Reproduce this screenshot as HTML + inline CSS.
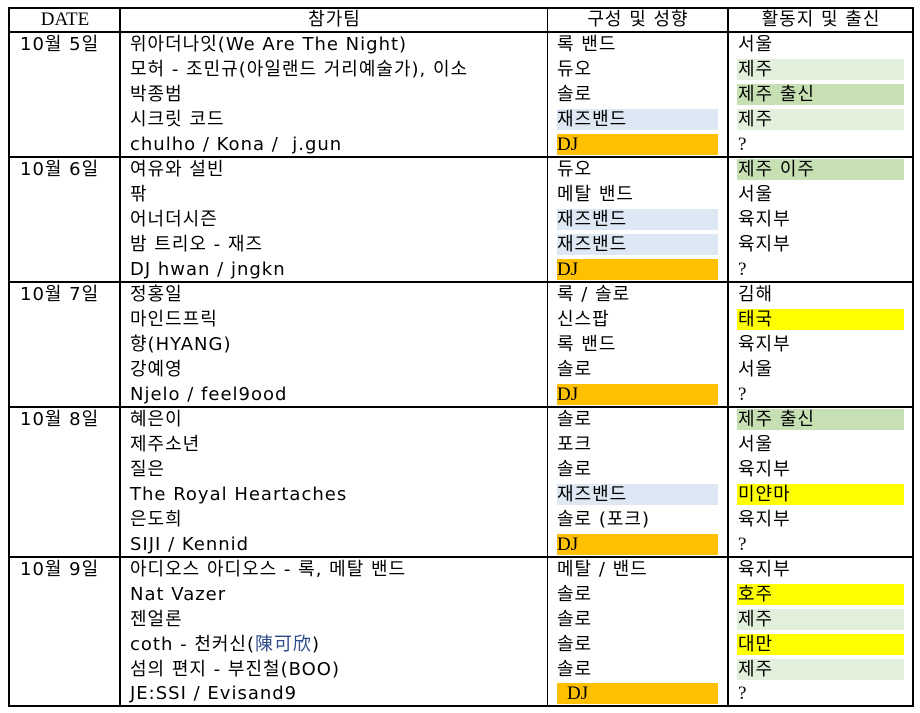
<!DOCTYPE html>
<html><head><meta charset="utf-8"><style>
body{margin:0;background:#fff;width:920px;height:713px;position:relative;overflow:hidden;
font-family:"DejaVu Sans","Noto Sans CJK KR",sans-serif;font-size:18px;color:#000;letter-spacing:1px}
.r{position:absolute;left:0;width:920px;height:25px}
.r span{position:absolute;top:2px;height:21px;line-height:21px;white-space:nowrap}
.a{left:20px}.b{left:130px}.c{left:557px}.d{left:738px}
.c.h{width:161px}.d.h{left:737px;padding-left:1px;width:166px}
.bl{background:#dde8f4}.o{background:#ffc000}.lg{background:#e2efda}.g{background:#c6e0b4}.y{background:#ffff00}
.s{font-family:"Liberation Serif","Noto Serif CJK KR",serif;letter-spacing:0;font-size:19px}
.hl{position:absolute;background:#000}
.hd{position:absolute;top:8px;height:24px;line-height:24px;text-align:center}
</style></head><body>
<div class="hl" style="left:8px;top:7px;width:906px;height:2px"></div>
<div class="hl" style="left:8px;top:31px;width:906px;height:2px"></div>
<div class="hl" style="left:8px;top:156px;width:906px;height:2px"></div>
<div class="hl" style="left:8px;top:281px;width:906px;height:2px"></div>
<div class="hl" style="left:8px;top:406px;width:906px;height:2px"></div>
<div class="hl" style="left:8px;top:556px;width:906px;height:2px"></div>
<div class="hl" style="left:8px;top:705px;width:906px;height:2px"></div>
<div class="hl" style="left:8px;top:7px;width:2px;height:700px"></div>
<div class="hl" style="left:119px;top:7px;width:2px;height:700px"></div>
<div class="hl" style="left:547px;top:7px;width:1px;height:700px"></div>
<div class="hl" style="left:727px;top:7px;width:2px;height:700px"></div>
<div class="hl" style="left:912px;top:7px;width:2px;height:700px"></div>
<div class="hd s" style="left:10px;width:110px">DATE</div>
<div class="hd" style="left:121px;width:427px">참가팀</div>
<div class="hd" style="left:548px;width:180px">구성 및 성향</div>
<div class="hd" style="left:729px;width:184px">활동지 및 출신</div>

<div class="r" style="top:32px"><span class="a">10월 5일</span><span class="b">위아더나잇(We Are The Night)</span><span class="c">록 밴드</span><span class="d">서울</span></div>
<div class="r" style="top:57px"><span class="b">모허 - 조민규(아일랜드 거리예술가), 이소</span><span class="c">듀오</span><span class="d h lg">제주</span></div>
<div class="r" style="top:82px"><span class="b">박종범</span><span class="c">솔로</span><span class="d h g">제주 출신</span></div>
<div class="r" style="top:107px"><span class="b">시크릿 코드</span><span class="c h bl">재즈밴드</span><span class="d h lg">제주</span></div>
<div class="r" style="top:132px"><span class="b">chulho / Kona /&nbsp; j.gun</span><span class="c h o s">DJ</span><span class="d s">?</span></div>

<div class="r" style="top:157px"><span class="a">10월 6일</span><span class="b">여유와 설빈</span><span class="c">듀오</span><span class="d h g">제주 이주</span></div>
<div class="r" style="top:182px"><span class="b">팎</span><span class="c">메탈 밴드</span><span class="d">서울</span></div>
<div class="r" style="top:207px"><span class="b">어너더시즌</span><span class="c h bl">재즈밴드</span><span class="d">육지부</span></div>
<div class="r" style="top:232px"><span class="b">밤 트리오 - 재즈</span><span class="c h bl">재즈밴드</span><span class="d">육지부</span></div>
<div class="r" style="top:257px"><span class="b">DJ hwan / jngkn</span><span class="c h o s">DJ</span><span class="d s">?</span></div>

<div class="r" style="top:282px"><span class="a">10월 7일</span><span class="b">정홍일</span><span class="c">록 / 솔로</span><span class="d">김해</span></div>
<div class="r" style="top:307px"><span class="b">마인드프릭</span><span class="c">신스팝</span><span class="d h y">태국</span></div>
<div class="r" style="top:332px"><span class="b">향(HYANG)</span><span class="c">록 밴드</span><span class="d">육지부</span></div>
<div class="r" style="top:357px"><span class="b">강예영</span><span class="c">솔로</span><span class="d">서울</span></div>
<div class="r" style="top:382px"><span class="b">Njelo / feel9ood</span><span class="c h o s">DJ</span><span class="d s">?</span></div>

<div class="r" style="top:407px"><span class="a">10월 8일</span><span class="b">혜은이</span><span class="c">솔로</span><span class="d h g">제주 출신</span></div>
<div class="r" style="top:432px"><span class="b">제주소년</span><span class="c">포크</span><span class="d">서울</span></div>
<div class="r" style="top:457px"><span class="b">질은</span><span class="c">솔로</span><span class="d">육지부</span></div>
<div class="r" style="top:482px"><span class="b">The Royal Heartaches</span><span class="c h bl">재즈밴드</span><span class="d h y">미얀마</span></div>
<div class="r" style="top:507px"><span class="b">은도희</span><span class="c">솔로 (포크)</span><span class="d">육지부</span></div>
<div class="r" style="top:532px"><span class="b">SIJI / Kennid</span><span class="c h o s">DJ</span><span class="d s">?</span></div>

<div class="r" style="top:557px"><span class="a">10월 9일</span><span class="b">아디오스 아디오스 - 록, 메탈 밴드</span><span class="c">메탈 / 밴드</span><span class="d">육지부</span></div>
<div class="r" style="top:582px"><span class="b">Nat Vazer</span><span class="c">솔로</span><span class="d h y">호주</span></div>
<div class="r" style="top:607px"><span class="b">젠얼론</span><span class="c">솔로</span><span class="d h lg">제주</span></div>
<div class="r" style="top:632px"><span class="b">coth - 천커신(<span style="position:static;color:#2e4a8a">陳可欣</span>)</span><span class="c">솔로</span><span class="d h y">대만</span></div>
<div class="r" style="top:657px"><span class="b">섬의 편지 - 부진철(BOO)</span><span class="c">솔로</span><span class="d h lg">제주</span></div>
<div class="r" style="top:681px"><span class="b">JE:SSI / Evisand9</span><span class="c h o s" style="padding-left:10px;width:151px">DJ</span><span class="d s">?</span></div>
</body></html>
